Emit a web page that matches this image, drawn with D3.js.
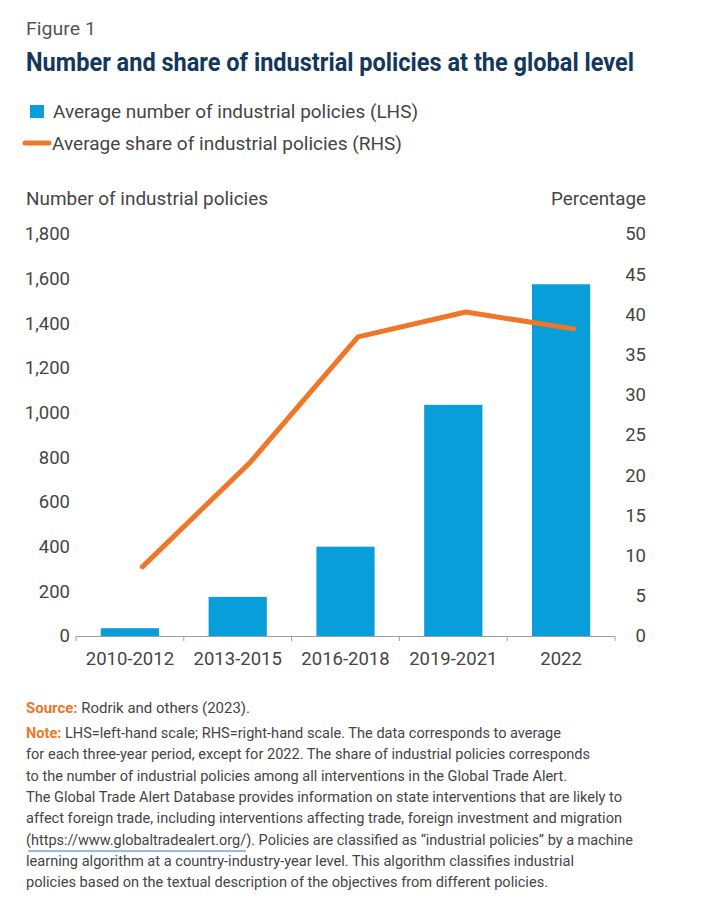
<!DOCTYPE html>
<html>
<head>
<meta charset="utf-8">
<script src="https://cdn.jsdelivr.net/npm/d3@7"></script>
<style>
  html, body { margin: 0; padding: 0; background: #fff; }
  svg { display: block; }
  text { font-family: Roboto, "Noto Sans", sans-serif; }
</style>
</head>
<body>
<svg id="chart" width="701" height="917"></svg>
<script>
// ---- data ----
const categories = ["2010-2012", "2013-2015", "2016-2018", "2019-2021", "2022"];
const avgNumber = [35, 175, 400, 1035, 1575];      // LHS
const avgShare = [8.6, 21.6, 37.2, 40.3, 38.2];     // RHS (%)
const leftTicks = [0, 200, 400, 600, 800, 1000, 1200, 1400, 1600, 1800];
const rightTicks = [0, 5, 10, 15, 20, 25, 30, 35, 40, 45, 50];

const noteLines = [
  "LHS=left-hand scale; RHS=right-hand scale. The data corresponds to average",
  "for each three-year period, except for 2022. The share of industrial policies corresponds",
  "to the number of industrial policies among all interventions in the Global Trade Alert.",
  "The Global Trade Alert Database provides information on state interventions that are likely to",
  "affect foreign trade, including interventions affecting trade, foreign investment and migration",
  "(https://www.globaltradealert.org/). Policies are classified as \u201cindustrial policies\u201d by a machine",
  "learning algorithm at a country-industry-year level. This algorithm classifies industrial",
  "policies based on the textual description of the objectives from different policies."
];
const noteWidths = [535, 564, 541, 596, 596, 607, 548, 522];

// ---- styles ----
const BLUE = "#089ed9";
const ORANGE = "#f07628";
const TXT = "#454545";
const NAVY = "#14375c";

const svg = d3.select("#chart");

function fit(sel, w) {
  sel.attr("textLength", w).attr("lengthAdjust", "spacingAndGlyphs");
  return sel;
}

// Header
fit(svg.append("text").attr("x", 26).attr("y", 35).attr("font-size", 18.5)
  .attr("fill", "#555").text("Figure 1"), 70);
fit(svg.append("text").attr("x", 26).attr("y", 71).attr("font-size", 25.5)
  .attr("font-weight", 700).attr("fill", NAVY)
  .text("Number and share of industrial policies at the global level"), 608);

// Legend
svg.append("rect").attr("x", 30).attr("y", 105).attr("width", 14).attr("height", 13).attr("fill", BLUE);
fit(svg.append("text").attr("x", 53).attr("y", 118).attr("font-size", 18.5).attr("fill", TXT)
  .text("Average number of industrial policies (LHS)"), 365);
svg.append("line").attr("x1", 25).attr("x2", 49).attr("y1", 143).attr("y2", 143)
  .attr("stroke", ORANGE).attr("stroke-width", 5).attr("stroke-linecap", "round");
fit(svg.append("text").attr("x", 52).attr("y", 150).attr("font-size", 18.5).attr("fill", TXT)
  .text("Average share of industrial policies (RHS)"), 350);

// Axis titles
fit(svg.append("text").attr("x", 26).attr("y", 205).attr("font-size", 18.5).attr("fill", TXT)
  .text("Number of industrial policies"), 242);
fit(svg.append("text").attr("x", 646).attr("y", 205).attr("font-size", 18.5).attr("fill", TXT)
  .attr("text-anchor", "end").text("Percentage"), 95);

// Scales
const x = d3.scaleBand().domain(categories).range([76, 615]).paddingInner(0.46).paddingOuter(0.23);
const yL = d3.scaleLinear().domain([0, 1800]).range([636, 234]);
const yR = d3.scaleLinear().domain([0, 50]).range([636, 234]);

// Left tick labels
const fmt = d3.format(",");
svg.append("g").selectAll("text").data(leftTicks).join("text")
  .attr("x", 70).attr("y", d => yL(d)).attr("dy", "0.35em")
  .attr("text-anchor", "end").attr("font-size", 18.5).attr("fill", TXT)
  .text(d => fmt(d));

// Right tick labels
svg.append("g").selectAll("text").data(rightTicks).join("text")
  .attr("x", 646).attr("y", d => yR(d)).attr("dy", "0.35em")
  .attr("text-anchor", "end").attr("font-size", 18.5).attr("fill", TXT)
  .text(d => d);

// Bars
svg.append("g").selectAll("rect").data(categories).join("rect")
  .attr("x", d => x(d)).attr("width", x.bandwidth())
  .attr("y", (d, i) => yL(avgNumber[i]))
  .attr("height", (d, i) => yL(0) - yL(avgNumber[i]))
  .attr("fill", BLUE);

// X axis
const xAxisG = svg.append("g");
xAxisG.append("line").attr("x1", 76).attr("x2", 615).attr("y1", 636.5).attr("y2", 636.5)
  .attr("stroke", "#a0a0a0").attr("stroke-width", 1);
const bounds = categories.map(c => x(c) - x.step() * x.paddingInner() / 2);
bounds[0] = 76;
bounds.push(615);
xAxisG.selectAll("line.tick").data(bounds).join("line").attr("class", "tick")
  .attr("x1", d => d).attr("x2", d => d).attr("y1", 636).attr("y2", 641)
  .attr("stroke", "#a0a0a0").attr("stroke-width", 1);
xAxisG.selectAll("text").data(categories).join("text")
  .attr("x", d => x(d) + x.bandwidth() / 2).attr("y", 665)
  .attr("text-anchor", "middle").attr("font-size", 18.5).attr("fill", TXT)
  .text(d => d);

// Line (drawn slightly right of the bar centres, as in the original)
const lineOffset = 12.5;
const line = d3.line()
  .x((d, i) => x(categories[i]) + x.bandwidth() / 2 + lineOffset)
  .y(d => yR(d));
svg.append("path").datum(avgShare).attr("d", line)
  .attr("fill", "none").attr("stroke", ORANGE).attr("stroke-width", 5)
  .attr("stroke-linejoin", "round").attr("stroke-linecap", "round");

// Footer
const src = svg.append("text").attr("x", 26).attr("y", 713).attr("font-size", 15.5).attr("fill", TXT);
src.append("tspan").attr("font-weight", 700).attr("fill", ORANGE).text("Source:");
src.append("tspan").text(" Rodrik and others (2023).");
fit(src, 224);

noteLines.forEach((t, i) => {
  const el = svg.append("text").attr("x", 26).attr("y", 738 + i * 21.3)
    .attr("font-size", 15.5).attr("fill", TXT);
  if (i === 0) {
    el.append("tspan").attr("font-weight", 700).attr("fill", ORANGE).text("Note:");
    el.append("tspan").text(" " + t);
  } else {
    el.text(t);
  }
  fit(el, noteWidths[i]);
});
// URL underline
svg.append("line").attr("x1", 28).attr("x2", 246).attr("y1", 851).attr("y2", 851)
  .attr("stroke", "#2a7fb8").attr("stroke-width", 1);
</script>
</body>
</html>
